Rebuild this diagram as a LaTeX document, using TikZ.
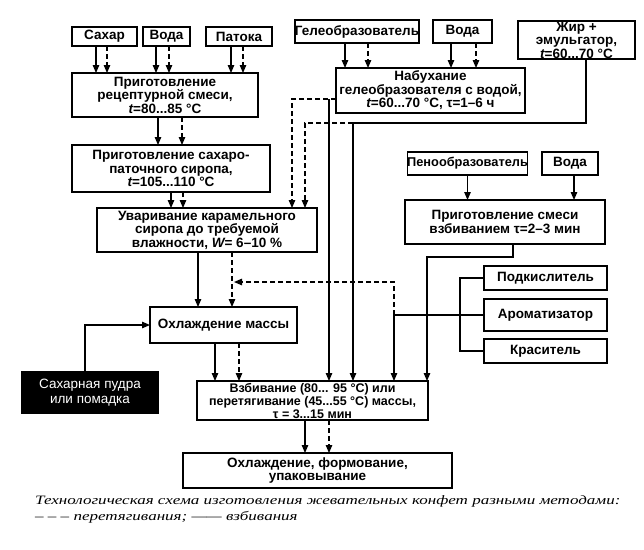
\documentclass[tikz,border=0pt]{standalone}
\usepackage{fontspec}
\setmainfont{Liberation Sans}
\newfontfamily\capfont{Liberation Serif}
\usetikzlibrary{arrows.meta, positioning, calc}

\tikzset{
  box/.style={draw, line width=1.2pt, align=center, inner sep=0pt, outer sep=0pt,
    font=\bfseries\fontsize{13.5}{13.5}\selectfont},
  arr/.style={-{Triangle[length=8pt, width=6.5pt]}, line width=1.2pt},
  dsh/.style={dash pattern=on 5pt off 3pt},
}

\begin{document}
\begin{tikzpicture}[x=1pt, y=-1pt]
  \useasboundingbox (0,0) rectangle (644,549);

  % syrup branch
  \node[box, minimum width=65, minimum height=19] (sugar) at (104.5,36.5) {Сахар};
  \node[box, minimum width=47, minimum height=19] (water1) at (166.5,36.5) {Вода};
  \node[box, minimum width=66, minimum height=19] (molasses) at (239,36.5) {Патока};
  \node[box, minimum width=186, minimum height=44] (mix) at (165,95)
    {Приготовление\\рецептурной смеси,\\{\itshape t}=80...85 °C};
  \node[box, minimum width=198, minimum height=47] (syrup) at (171,168.5)
    {Приготовление сахаро-\\паточного сиропа,\\{\itshape t}=105...110 °C};
  \node[box, minimum width=220, minimum height=44] (boil) at (207,230)
    {Уваривание карамельного\\сиропа до требуемой\\влажности, {\itshape W}= 6–10 \%};
  \node[box, minimum width=147, minimum height=36] (cool) at (223.5,325) {Охлаждение массы};
  \node[box, fill=black, text=white, minimum width=136, minimum height=41,
    font=\fontsize{13.5}{15}\selectfont] (powder) at (90,392.5) {Сахарная пудра\\или помадка};
  \node[box, minimum width=231, minimum height=39, font=\bfseries\fontsize{12.5}{13}\selectfont]
    (whip) at (312.5,400.5)
    {Взбивание (80... 95 °C) или\\перетягивание (45...55 °C) массы,\\τ = 3...15 мин};
  \node[box, minimum width=269, minimum height=35] (final) at (317.5,470.5)
    {Охлаждение, формование,\\упаковывание};

  % gel branch
  \node[box, minimum width=120, minimum height=23] (gel) at (357,31.5) {Гелеобразователь};
  \node[box, minimum width=59, minimum height=23] (water2) at (462.5,31.5) {Вода};
  \node[box, minimum width=117, minimum height=38] (fat) at (576.5,40)
    {Жир +\\эмульгатор,\\{\itshape t}=60...70 °C};
  \node[box, minimum width=189, minimum height=45] (swell) at (430.5,90.5)
    {Набухание\\гелеобразователя с водой,\\{\itshape t}=60...70 °C, τ=1–6 ч};

  % foam branch
  \node[box, minimum width=115, minimum height=23, font=\bfseries\fontsize{12.8}{13}\selectfont]
    (foam) at (467.5,163.5) {Пенообразователь};
  \node[box, minimum width=56, minimum height=23] (water3) at (570,163.5) {Вода};
  \node[box, minimum width=200, minimum height=44] (foammix) at (505,222)
    {Приготовление смеси\\взбиванием τ=2–3 мин};
  \node[box, minimum width=123, minimum height=24] (acid) at (545.5,278) {Подкислитель};
  \node[box, minimum width=123, minimum height=32] (aroma) at (545.5,315) {Ароматизатор};
  \node[box, minimum width=123, minimum height=24] (dye) at (545.5,351) {Краситель};

  % caption
  \node[anchor=north west, align=left, inner sep=0pt, font=\capfont\itshape\fontsize{12.8}{16}\selectfont]
    (caption) at (35,495)
    {\scalebox{1.33}[1]{Технологическая схема изготовления жевательных конфет разными методами:}\\
     \scalebox{1.33}[1]{– – – перетягивания; —— взбивания}};

  % syrup connectors
  \draw[arr] ([xshift=-8.5pt]sugar.south) -- ([xshift=-8.5pt]sugar.south |- mix.north);
  \draw[arr, dsh] ([xshift=2.5pt]sugar.south) -- ([xshift=2.5pt]sugar.south |- mix.north);
  \draw[arr] ([xshift=-10.5pt]water1.south) -- ([xshift=-10.5pt]water1.south |- mix.north);
  \draw[arr, dsh] ([xshift=2.5pt]water1.south) -- ([xshift=2.5pt]water1.south |- mix.north);
  \draw[arr] ([xshift=-8pt]molasses.south) -- ([xshift=-8pt]molasses.south |- mix.north);
  \draw[arr, dsh] ([xshift=4pt]molasses.south) -- ([xshift=4pt]molasses.south |- mix.north);
  \draw[arr] ([xshift=-7pt]mix.south) -- ([xshift=-7pt]mix.south |- syrup.north);
  \draw[arr, dsh] ([xshift=17pt]mix.south) -- ([xshift=17pt]mix.south |- syrup.north);
  \draw[arr] (syrup.south) -- (syrup.south |- boil.north);
  \draw[arr, dsh] ([xshift=12pt]syrup.south) -- ([xshift=12pt]syrup.south |- boil.north);
  \draw[arr] ([xshift=-9pt]boil.south) -- ([xshift=-9pt]boil.south |- cool.north);
  \draw[arr, dsh] ([xshift=25pt]boil.south) -- ([xshift=25pt]boil.south |- cool.north);
  \draw[arr] ([xshift=-5pt]powder.north) |- (cool.west);
  \draw[arr] ([xshift=-8.5pt]cool.south) -- ([xshift=-8.5pt]cool.south |- whip.north);
  \draw[arr, dsh] ([xshift=15.5pt]cool.south) -- ([xshift=15.5pt]cool.south |- whip.north);
  \draw[arr] ([xshift=-7.5pt]whip.south) -- ([xshift=-7.5pt]whip.south |- final.north);
  \draw[arr, dsh] ([xshift=16.5pt]whip.south) -- ([xshift=16.5pt]whip.south |- final.north);

  % gel connectors
  \draw[arr] ([xshift=-12pt]gel.south) -- ([xshift=-12pt]gel.south |- swell.north);
  \draw[arr, dsh] ([xshift=11pt]gel.south) -- ([xshift=11pt]gel.south |- swell.north);
  \draw[arr] ([xshift=-11.5pt]water2.south) -- ([xshift=-11.5pt]water2.south |- swell.north);
  \draw[arr, dsh] ([xshift=13.5pt]water2.south) -- ([xshift=13.5pt]water2.south |- swell.north);
  \coordinate (swellfork) at ([xshift=16.5pt]whip.north |- 0,99);
  \coordinate (fatfork) at ([xshift=40.5pt]whip.north |- 0,123);
  \draw[arr, dsh] (swell.west |- swellfork) -| ([xshift=85pt]boil.north);
  \draw[arr] (swellfork) -- (swellfork |- whip.north);
  \draw[line width=1.2pt] ([xshift=9.5pt]fat.south) |- (fatfork);
  \draw[arr] (fatfork) -- (fatfork |- whip.north);
  \draw[arr, dsh] (fatfork) -| ([xshift=98pt]boil.north);

  % foam and additives
  \draw[arr] (foam.south) -- (foam.south |- foammix.north);
  \draw[arr] ([xshift=4pt]water3.south) -- ([xshift=4pt]water3.south |- foammix.north);
  \draw[arr] ([xshift=8pt]foammix.south) -- ++(0,13) -| ([xshift=114.5pt]whip.north);
  \coordinate (addfork) at ([xshift=81.5pt]whip.north |- aroma.west);
  \draw[line width=1.2pt] (acid.west) -- ++(-24,0) |- (dye.west);
  \draw[arr] (aroma.west) -- (addfork) -- (addfork |- whip.north);
  \draw[arr, dsh] (addfork) |- ([xshift=27pt, yshift=-30pt]boil.south);
\end{tikzpicture}
\end{document}
